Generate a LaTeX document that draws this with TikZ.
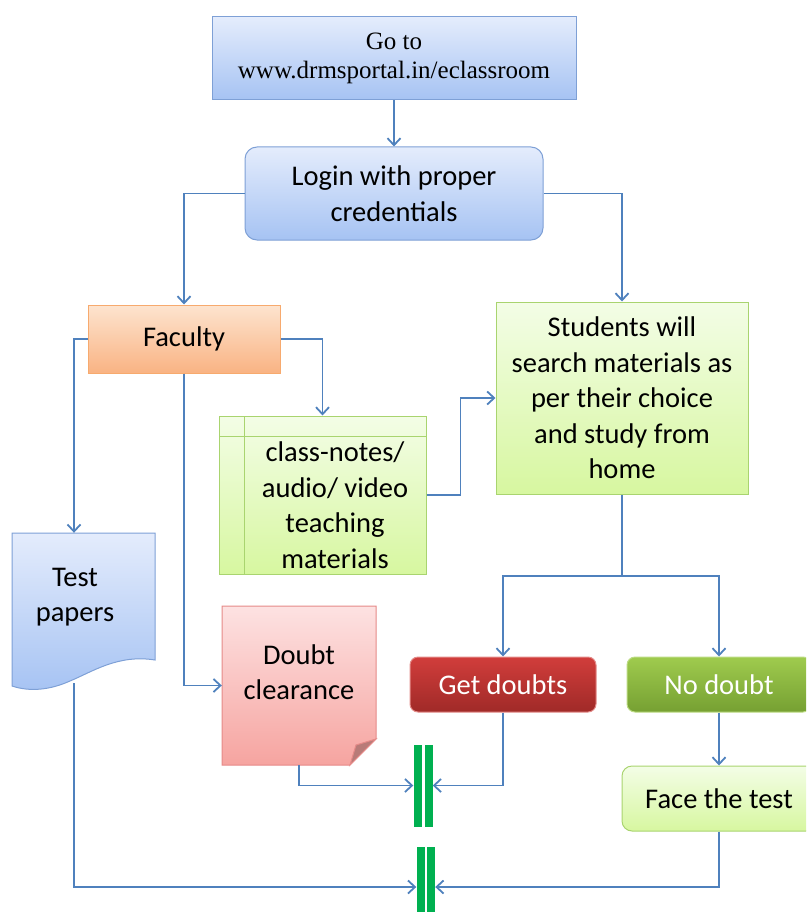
\documentclass[tikz,border=0pt]{standalone}
\usepackage{fontspec}
\setmainfont{Carlito}
\newfontfamily\urlfont{Liberation Serif}
\usetikzlibrary{arrows.meta}
\definecolor{linkblue}{RGB}{79,129,189}
\definecolor{bluetop}{RGB}{228,236,252}
\definecolor{bluebot}{RGB}{166,195,243}
\definecolor{blueline}{RGB}{126,160,214}
\definecolor{orangetop}{RGB}{253,228,207}
\definecolor{orangebot}{RGB}{249,179,131}
\definecolor{orangeline}{RGB}{247,170,110}
\definecolor{greentop}{RGB}{243,253,230}
\definecolor{greenbot}{RGB}{215,247,160}
\definecolor{greenline}{RGB}{169,212,111}
\definecolor{pinktop}{RGB}{253,226,226}
\definecolor{pinkbot}{RGB}{246,164,160}
\definecolor{pinkline}{RGB}{229,138,136}
\definecolor{redtop}{RGB}{209,61,59}
\definecolor{redbot}{RGB}{160,42,40}
\definecolor{leaftop}{RGB}{159,203,78}
\definecolor{leafbot}{RGB}{118,160,50}
\definecolor{barclr}{RGB}{0,176,80}

\begin{document}
\begin{tikzpicture}[x=1pt,y=-1pt,
    font=\fontsize{28.5}{35.5}\selectfont,
    every node/.style={align=center,inner sep=0pt},
    conn/.style={draw=linkblue,line width=1.8pt},
    arr/.style={conn,-{Straight Barb[length=7pt,width=13pt]}},
    bluebox/.style={draw=blueline,line width=1pt,top color=bluetop,bottom color=bluebot},
    orangebox/.style={draw=orangeline,line width=1pt,top color=orangetop,bottom color=orangebot},
    greenbox/.style={draw=greenline,line width=1pt,top color=greentop,bottom color=greenbot},
    redbox/.style={draw=redtop!60,line width=1pt,rounded corners=8pt,text=white,top color=redtop,bottom color=redbot},
    leafbox/.style={draw=leaftop!70,line width=1pt,rounded corners=8pt,text=white,top color=leaftop,bottom color=leafbot},
    gbar/.style={fill=barclr,minimum width=8pt}]
    \useasboundingbox (0,0) rectangle (806,912);
    \clip (0,0) rectangle (806,912);
    % top part
    \node[bluebox,minimum width=364pt,minimum height=83pt,
          font=\urlfont\fontsize{25}{29}\selectfont] (goto) at (394,58.5)
          {Go to\\www.drmsportal.in/eclassroom};
    \node[bluebox,rounded corners=12pt,minimum width=298pt,minimum height=93pt]
          (login) at (394,193.5) {Login with proper\\credentials};
    \node[orangebox,minimum width=192pt,minimum height=68pt] (faculty) at (184,339) {Faculty};
    % teaching materials
    \node[greenbox,minimum width=207pt,minimum height=158pt] (notes) at (322.5,495) {};
    \draw[greenline,line width=1pt] (244,416) -- (244,574) (219,436) -- (426,436);
    \node at (335,505) {class-notes/\\audio/ video\\teaching\\materials};
    \node[greenbox,minimum width=252pt,minimum height=192pt] (students) at (622,398)
          {Students will\\search materials as\\per their choice\\and study from\\home};
    % test papers
    \node[minimum width=143pt,minimum height=150pt] (tests) at (83.5,608) {};
    \path[bluebox] (12,533) -- (155,533) -- (155,660)
          .. controls (118,654) and (92,672) .. (70,681)
          .. controls (50,690) and (30,692) .. (12,686) -- cycle;
    \node at (75,597) {Test\\papers};
    % doubt clearance
    \node[minimum width=154pt,minimum height=159pt] (doubt) at (299,685.5) {};
    \path[draw=pinkline,line width=1pt,top color=pinktop,bottom color=pinkbot]
          (222,606) -- (376,606) -- (376,739) -- (350,765) -- (222,765) -- cycle;
    \filldraw[draw=pinkline,fill=pinkbot!75!black,line width=1pt]
          (350,765) -- (356,745) -- (376,739) -- cycle;
    \node at ([yshift=13.5pt]doubt.center) {Doubt\\clearance};
    % right part
    \node[redbox,minimum width=186pt,minimum height=55pt] (get) at (503,684.5) {Get doubts};
    \node[leafbox,minimum width=184pt,minimum height=55pt] (nodoubt) at (719,684.5) {No doubt};
    \node[greenbox,rounded corners=10pt,minimum width=194pt,minimum height=65pt]
          (face) at (719,798.5) {Face the test};
    % bars
    \node[gbar,minimum height=82pt] (bar1a) at (417.5,785.5) {};
    \node[gbar,minimum height=82pt] (bar1b) at (428.5,785.5) {};
    \node[gbar,minimum height=80pt] (bar2a) at (420.5,887) {};
    \node[gbar,minimum height=80pt] (bar2b) at (431,887) {};
    \coordinate (split) at (622,576);
    % connectors
    \draw[arr] (goto) -- (login);
    \draw[arr] (login.west) -| (faculty.north);
    \draw[arr] (login.east) -| (students.north);
    \draw[arr] (faculty.west) -| ([xshift=-9.5pt]tests.north);
    \draw[arr] (faculty.east) -| (notes.north);
    \draw[arr] (faculty.south) |- (doubt.west);
    \draw[arr] (notes.east) -- ++(34,0) |- (students.west);
    \draw[conn] (students.south) -- (split);
    \draw[arr] (split) -| (get.north);
    \draw[arr] (split) -| (nodoubt.north);
    \draw[arr] (nodoubt) -- (face);
    \draw[arr] (doubt.south) |- (bar1a.west);
    \draw[arr] (get.south) |- (bar1b.east);
    \draw[arr] ([xshift=-9.5pt]tests.south) |- (bar2a.west);
    \draw[arr] (face.south) |- (bar2b.east);
\end{tikzpicture}
\end{document}
